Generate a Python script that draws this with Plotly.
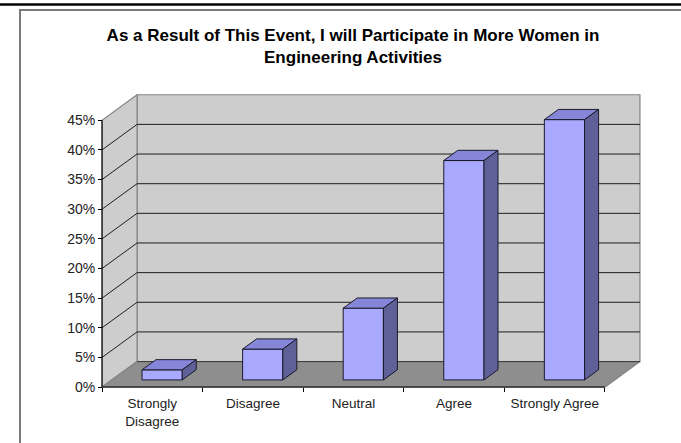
import plotly.graph_objects as go

# ---------------- data ----------------
categories = ["Strongly<br>Disagree", "Disagree", "Neutral", "Agree", "Strongly Agree"]
values = [1.7, 5.2, 12.1, 37.0, 43.9]          # percent
y_ticks = [0, 5, 10, 15, 20, 25, 30, 35, 40, 45]
y_tick_text = [f"{t}%" for t in y_ticks]
title_text = "As a Result of This Event, I will Participate in More Women in<br>Engineering Activities"

# ---------------- geometry (in data units) ----------------
W, H = 681, 443
N = len(categories)
YMAX = max(y_ticks)
DX, DY = 0.348, 4.3          # depth offset of the back wall (category units, percent units)
F0, F1 = 0.28, 0.68          # depth fractions of bar front/back faces
BW = 0.4                     # bar width (category units)

X0_PX, Y0_PX = 102, 387      # pixel position of the front origin
PX_X, PX_Y = 100.6, 5.933    # pixels per category / per percent

xmin, xmax = -0.08, N + DX + 0.06
ymin, ymax = -1.0, YMAX + DY + 0.8

ml = round(X0_PX + xmin * PX_X)
mr = round(W - (X0_PX + xmax * PX_X))
mb = round(H - (Y0_PX - ymin * PX_Y))
mt = round(Y0_PX - ymax * PX_Y)
pw, ph = W - ml - mr, H - mt - mb

def paper_x(px):
    return (px - ml) / pw

def paper_y(py):
    return (H - mb - py) / ph

WALL = "#CDCDCD"
FLOOR = "#8E8E8E"
EDGE = "#858585"
GRID = "#1E1E1E"
FRONT = "#A9A9FF"
TOP = "#8686D8"
SIDE = "#606099"
BAR_EDGE = "#1A1A2A"

fig = go.Figure()

def poly(xs, ys, fill, line_color, line_width=1.0):
    fig.add_trace(go.Scatter(
        x=list(xs) + [xs[0]], y=list(ys) + [ys[0]], mode="lines", fill="toself",
        fillcolor=fill, line=dict(color=line_color, width=line_width),
        hoverinfo="skip", showlegend=False, cliponaxis=False))

def seg(xs, ys, color, width=1.0):
    fig.add_trace(go.Scatter(
        x=xs, y=ys, mode="lines", line=dict(color=color, width=width),
        hoverinfo="skip", showlegend=False, cliponaxis=False))

# back wall
poly([DX, N + DX, N + DX, DX], [DY, DY, YMAX + DY, YMAX + DY], WALL, EDGE, 1.2)
# left side wall
poly([0, DX, DX, 0], [0, DY, YMAX + DY, YMAX], WALL, EDGE, 1.2)
# floor
poly([0, N, N + DX, DX], [0, 0, DY, DY], FLOOR, EDGE, 1.2)

# gridlines on back and side wall
for t in y_ticks[1:-1]:
    seg([0, DX, N + DX], [t, t + DY, t + DY], GRID, 1.0)
# floor back edge
seg([DX, N + DX], [DY, DY], "#3A3A3A", 1.0)

# bars
for i, v in enumerate(values):
    c = i + 0.5
    xl = c - BW / 2 + F0 * DX
    xr = c + BW / 2 + F0 * DX
    yb = F0 * DY
    yt = v + F0 * DY
    ddx = (F1 - F0) * DX
    ddy = (F1 - F0) * DY
    poly([xl, xr, xr, xl], [yb, yb, yt, yt], FRONT, BAR_EDGE)
    poly([xl, xr, xr + ddx, xl + ddx], [yt, yt, yt + ddy, yt + ddy], TOP, BAR_EDGE)
    poly([xr, xr + ddx, xr + ddx, xr], [yb, yb + ddy, yt + ddy, yt], SIDE, BAR_EDGE)

# front axis lines
seg([0, 0], [0, YMAX], "#000000", 1.1)
seg([0, N], [0, 0], "#000000", 1.1)

FONT = "Liberation Sans, Arial, sans-serif"

fig.update_layout(
    width=W, height=H, autosize=False,
    margin=dict(l=ml, r=mr, t=mt, b=mb, pad=0),
    paper_bgcolor="white", plot_bgcolor="white",
    font=dict(family=FONT, size=13, color="#222222"),
    title=dict(text="<b>" + title_text + "</b>", x=353 / W,
               xref="container", xanchor="center", y=1 - 41 / H, yref="container",
               yanchor="top", font=dict(family=FONT, size=17, color="#000000")),
    xaxis=dict(range=[xmin, xmax], showgrid=False, zeroline=False, showline=False,
               tickmode="array", tickvals=[i + 0.5 for i in range(N)], ticktext=categories,
               ticks="outside", ticklen=4, tickcolor="rgba(0,0,0,0)",
               minor=dict(tickmode="array", tickvals=list(range(N + 1)), ticks="outside",
                          ticklen=4, tickcolor="#000000", tickwidth=1, showgrid=False),
               anchor="free", position=(0 - ymin) / (ymax - ymin),
               tickfont=dict(size=13.5, color="#222222"), fixedrange=True),
    yaxis=dict(range=[ymin, ymax], showgrid=False, zeroline=False, showline=False,
               tickmode="array", tickvals=y_ticks, ticktext=y_tick_text,
               ticks="outside", ticklen=4, tickcolor="#000000", tickwidth=1,
               anchor="free", position=(0 - xmin) / (xmax - xmin),
               tickfont=dict(size=14, color="#222222"), fixedrange=True),
    shapes=[
        # outer chart frame
        dict(type="rect", xref="paper", yref="paper",
             x0=paper_x(20), x1=paper_x(W + 40), y0=paper_y(H + 40), y1=paper_y(10),
             line=dict(color="#7A7A7A", width=2), fillcolor="rgba(0,0,0,0)", layer="below"),
        # document rule at the top
        dict(type="line", xref="paper", yref="paper",
             x0=paper_x(-5), x1=paper_x(W + 5), y0=paper_y(4.5), y1=paper_y(4.5),
             line=dict(color="#000000", width=2.5)),
    ],
)

fig.write_html("out.html")
